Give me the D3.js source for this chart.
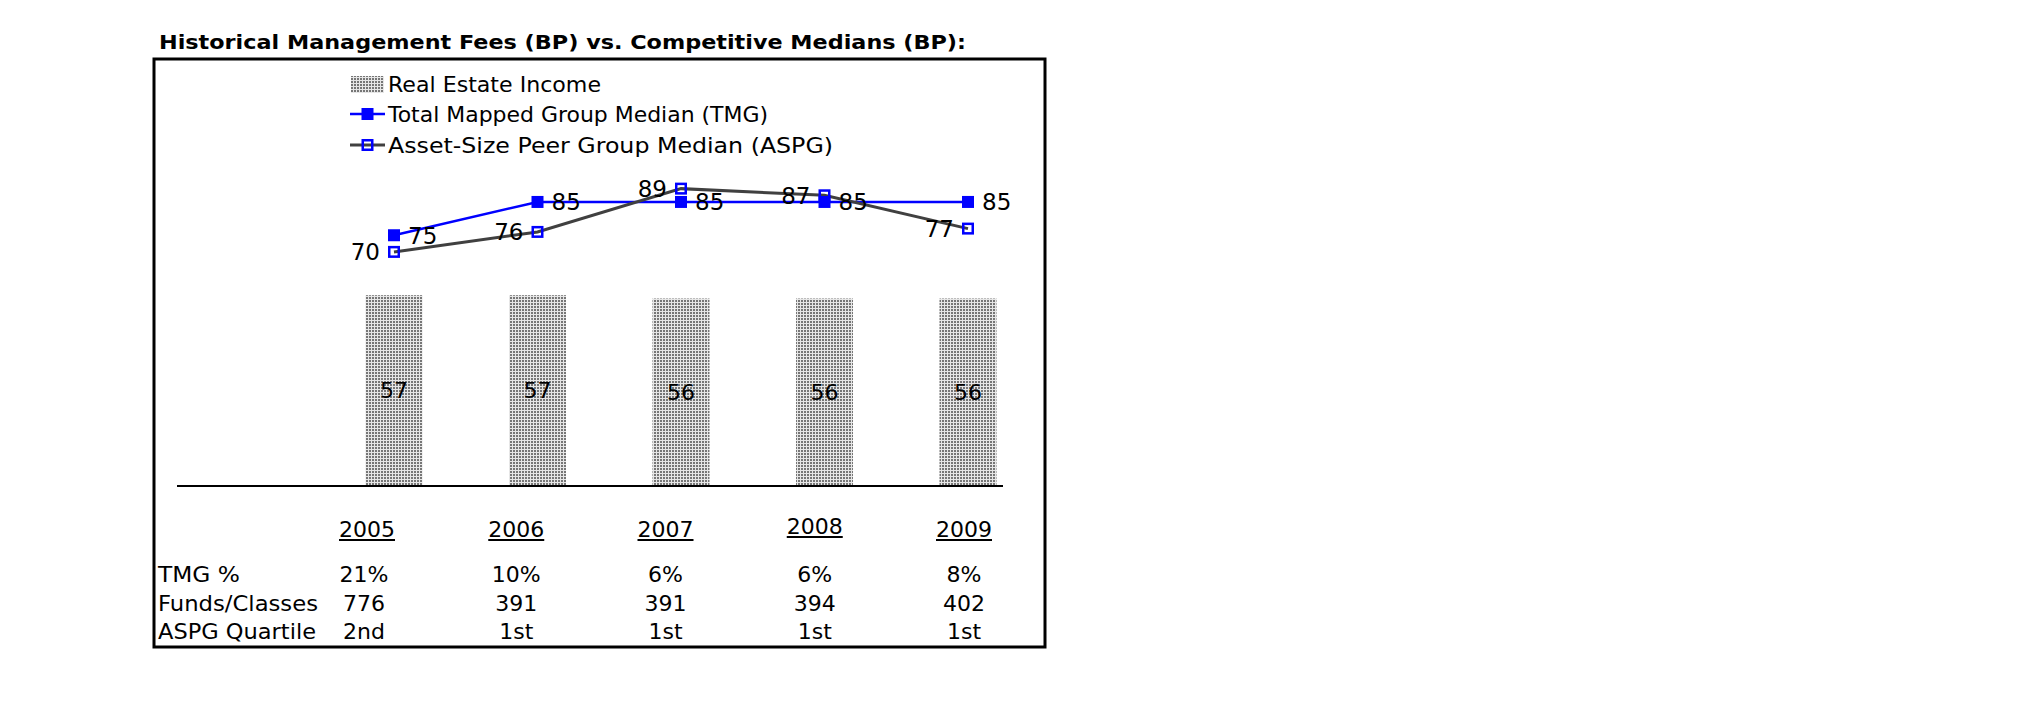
<!DOCTYPE html>
<html>
<head>
<meta charset="utf-8">
<script src="https://cdn.jsdelivr.net/npm/d3@7"></script>
<style>
  html, body { margin: 0; padding: 0; background: #fff; }
  svg { display: block; font-family: "DejaVu Sans", Verdana, sans-serif; }
</style>
</head>
<body>
<svg id="chart" width="2025" height="717"></svg>
<script>
// ---- data ----
const years = ["2005", "2006", "2007", "2008", "2009"];
const realEstateIncome = [57, 57, 56, 56, 56];
const tmgMedian = [75, 85, 85, 85, 85];
const aspgMedian = [70, 76, 89, 87, 77];
const tmgPct = ["21%", "10%", "6%", "6%", "8%"];
const fundsClasses = ["776", "391", "391", "394", "402"];
const aspgQuartile = ["2nd", "1st", "1st", "1st", "1st"];
const rowLabels = ["TMG %", "Funds/Classes", "ASPG Quartile"];
const seriesNames = ["Real Estate Income", "Total Mapped Group Median (TMG)", "Asset-Size Peer Group Median (ASPG)"];
const titleText = "Historical Management Fees (BP) vs. Competitive Medians (BP):";

const svg = d3.select("#chart");

// pattern for bars
const defs = svg.append("defs");
const pat = defs.append("pattern").attr("id", "dots")
  .attr("patternUnits", "userSpaceOnUse").attr("width", 3).attr("height", 3);
pat.append("rect").attr("width", 3).attr("height", 3).attr("fill", "#e6e6e6");
pat.append("rect").attr("width", 2).attr("height", 2).attr("fill", "#767676");

// title
svg.append("text")
  .attr("x", 159).attr("y", 49)
  .attr("font-size", 20).attr("font-weight", "bold")
  .attr("textLength", 807).attr("lengthAdjust", "spacingAndGlyphs")
  .text(titleText);

// frame
svg.append("rect")
  .attr("x", 154).attr("y", 59).attr("width", 891).attr("height", 588)
  .attr("fill", "none").attr("stroke", "#000").attr("stroke-width", 3);

// scales
const x = d3.scalePoint().domain(years).range([394, 968]);
const y = d3.scaleLinear().domain([0, 100]).range([485, 152]);
const barW = 57;

// bars
const barData = years.map((yr, i) => ({ yr, v: realEstateIncome[i] }));
svg.append("g").selectAll("rect").data(barData).join("rect")
  .attr("x", d => x(d.yr) - barW / 2)
  .attr("y", d => y(d.v))
  .attr("width", barW)
  .attr("height", d => y(0) - y(d.v))
  .attr("fill", "url(#dots)");

svg.append("g").selectAll("text").data(barData).join("text")
  .attr("x", d => x(d.yr))
  .attr("y", d => (y(d.v) + y(0)) / 2)
  .attr("dy", "0.36em")
  .attr("text-anchor", "middle")
  .attr("font-size", 22)
  .text(d => d.v);

// category axis line
svg.append("line")
  .attr("x1", 177).attr("x2", 1003)
  .attr("y1", y(0) + 1).attr("y2", y(0) + 1)
  .attr("stroke", "#000").attr("stroke-width", 2);

// lines
const tmgData = years.map((yr, i) => ({ yr, v: tmgMedian[i] }));
const aspgData = years.map((yr, i) => ({ yr, v: aspgMedian[i] }));
const lineGen = d3.line().x(d => x(d.yr)).y(d => y(d.v));

svg.append("path").datum(tmgData)
  .attr("d", lineGen).attr("fill", "none")
  .attr("stroke", "#0000ff").attr("stroke-width", 2.5);

svg.append("path").datum(aspgData)
  .attr("d", lineGen).attr("fill", "none")
  .attr("stroke", "#404040").attr("stroke-width", 3);

// markers
const mk = 12;
svg.append("g").selectAll("rect").data(tmgData).join("rect")
  .attr("x", d => x(d.yr) - mk / 2).attr("y", d => y(d.v) - mk / 2)
  .attr("width", mk).attr("height", mk)
  .attr("fill", "#0000ff");

svg.append("g").selectAll("rect").data(aspgData).join("rect")
  .attr("x", d => x(d.yr) - (mk - 2.5) / 2).attr("y", d => y(d.v) - (mk - 2.5) / 2)
  .attr("width", mk - 2.5).attr("height", mk - 2.5)
  .attr("fill", "none").attr("stroke", "#0000ff").attr("stroke-width", 2.5);

// data labels
svg.append("g").selectAll("text").data(tmgData).join("text")
  .attr("x", d => x(d.yr) + 14)
  .attr("y", d => y(d.v))
  .attr("dy", "0.36em")
  .attr("font-size", 23)
  .text(d => d.v);

svg.append("g").selectAll("text").data(aspgData).join("text")
  .attr("x", d => x(d.yr) - 14)
  .attr("y", d => y(d.v))
  .attr("dy", "0.36em")
  .attr("text-anchor", "end")
  .attr("font-size", 23)
  .text(d => d.v);

// legend
const lg = svg.append("g").attr("font-size", 22);
const legY = [84, 114, 145];
const legW = [213, 380, 445];
lg.append("rect").attr("x", 351).attr("y", legY[0] - 8).attr("width", 33).attr("height", 17)
  .attr("fill", "url(#dots)");
lg.append("line").attr("x1", 350).attr("x2", 385).attr("y1", legY[1]).attr("y2", legY[1])
  .attr("stroke", "#0000ff").attr("stroke-width", 2.5);
lg.append("rect").attr("x", 367.5 - mk / 2).attr("y", legY[1] - mk / 2).attr("width", mk).attr("height", mk)
  .attr("fill", "#0000ff");
lg.append("line").attr("x1", 350).attr("x2", 385).attr("y1", legY[2]).attr("y2", legY[2])
  .attr("stroke", "#404040").attr("stroke-width", 3);
lg.append("rect").attr("x", 367.5 - (mk - 2.5) / 2).attr("y", legY[2] - (mk - 2.5) / 2)
  .attr("width", mk - 2.5).attr("height", mk - 2.5)
  .attr("fill", "none").attr("stroke", "#0000ff").attr("stroke-width", 2.5);
lg.selectAll("text.leg").data(seriesNames).join("text")
  .attr("class", "leg")
  .attr("x", 388).attr("y", (d, i) => legY[i]).attr("dy", "0.36em")
  .attr("textLength", (d, i) => legW[i]).attr("lengthAdjust", "spacingAndGlyphs")
  .text(d => d);

// table below chart
const tx = d3.scalePoint().domain(years).range([367, 964]);
const tbl = svg.append("g").attr("font-size", 22);
const yearText = tbl.selectAll("text.yr").data(years).join("text")
  .attr("class", "yr")
  .attr("x", d => tx(d)).attr("y", (d, i) => i === 3 ? 534 : 537)
  .attr("text-anchor", "middle")
  .text(d => d);
yearText.each(function (d, i) {
  const bb = this.getBBox();
  const base = i === 3 ? 534 : 537;
  tbl.append("line")
    .attr("x1", bb.x).attr("x2", bb.x + bb.width)
    .attr("y1", base + 3).attr("y2", base + 3)
    .attr("stroke", "#000").attr("stroke-width", 2);
});

const rowY = [582, 611, 639];
const rowW = [82, 160, 158];
tbl.selectAll("text.rl").data(rowLabels).join("text")
  .attr("class", "rl")
  .attr("x", 158).attr("y", (d, i) => rowY[i])
  .attr("textLength", (d, i) => rowW[i]).attr("lengthAdjust", "spacingAndGlyphs")
  .text(d => d);

const rows = [tmgPct, fundsClasses, aspgQuartile];
rows.forEach((vals, r) => {
  tbl.append("g").selectAll("text").data(vals).join("text")
    .attr("x", (d, i) => tx(years[i]) - (i === 0 ? 3 : 0))
    .attr("y", rowY[r])
    .attr("text-anchor", "middle")
    .text(d => d);
});
</script>
</body>
</html>
